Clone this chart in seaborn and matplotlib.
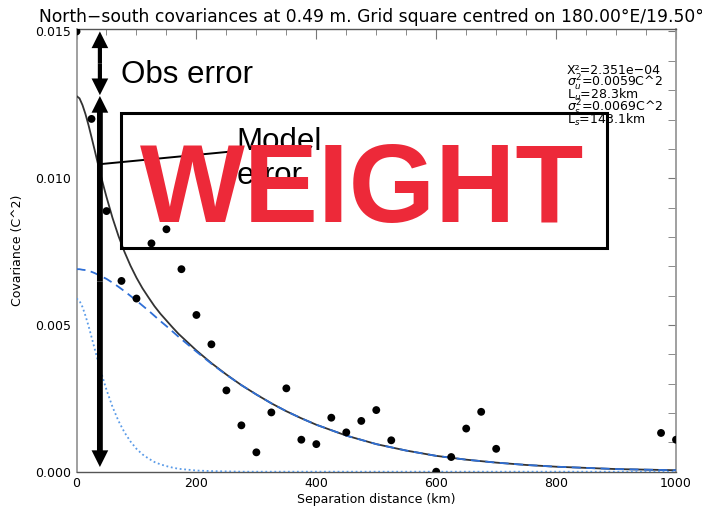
import matplotlib
matplotlib.use("Agg")
import matplotlib.pyplot as plt
import seaborn as sns
from matplotlib.patches import Rectangle
from matplotlib.ticker import MultipleLocator, FormatStrFormatter

# observed covariances (bin centres in km)
dist_obs = [0, 25, 50, 75, 100, 125, 150, 175, 200, 225, 250, 275, 300, 325,
            350, 375, 400, 425, 450, 475, 500, 525, 600, 625, 650, 675, 700,
            975, 1000]
cov_obs = [0.01500, 0.01202, 0.00888, 0.00650, 0.00590, 0.00778, 0.00826,
           0.00690, 0.00534, 0.00434, 0.00277, 0.00158, 0.00066, 0.00202,
           0.00284, 0.00109, 0.00094, 0.00184, 0.00134, 0.00173, 0.00210,
           0.00107, 0.00000, 0.00050, 0.00147, 0.00204, 0.00078, 0.00132,
           0.00109]

# fitted curves
dist_fit = [0, 5, 10, 15, 20, 25, 30, 35, 40, 45, 50, 60, 70, 80, 90, 100,
            110, 120, 130, 140, 150, 160, 170, 180, 190, 200, 225, 250, 275,
            300, 325, 350, 375, 400, 450, 500, 550, 600, 650, 700, 750, 800,
            850, 900, 950, 1000]
cov_total = [0.01280, 0.01272, 0.01249, 0.01218, 0.01181, 0.01140, 0.01098,
             0.01055, 0.01014, 0.00974, 0.00936, 0.00865, 0.00803, 0.00749,
             0.00702, 0.00661, 0.00625, 0.00594, 0.00564, 0.00538, 0.00515,
             0.00492, 0.00470, 0.00451, 0.00432, 0.00413, 0.00370, 0.00331,
             0.00295, 0.00263, 0.00233, 0.00206, 0.00182, 0.00160, 0.00123,
             0.00094, 0.00072, 0.00054, 0.00041, 0.00031, 0.00023, 0.00017,
             0.00013, 0.00009, 0.00007, 0.00005]
cov_synoptic = [0.00690, 0.00690, 0.00688, 0.00687, 0.00684, 0.00681, 0.00677,
                0.00672, 0.00668, 0.00662, 0.00657, 0.00644, 0.00630, 0.00615,
                0.00599, 0.00583, 0.00566, 0.00549, 0.00531, 0.00513, 0.00496,
                0.00478, 0.00460, 0.00443, 0.00426, 0.00409, 0.00368, 0.00330,
                0.00295, 0.00263, 0.00233, 0.00206, 0.00182, 0.00160, 0.00123,
                0.00094, 0.00072, 0.00054, 0.00041, 0.00031, 0.00023, 0.00017,
                0.00013, 0.00009, 0.00007, 0.00005]
cov_mesoscale = [0.00590, 0.00582, 0.00561, 0.00531, 0.00497, 0.00459, 0.00421,
                 0.00383, 0.00346, 0.00312, 0.00279, 0.00221, 0.00173, 0.00134,
                 0.00103, 0.00078, 0.00059, 0.00045, 0.00033, 0.00025, 0.00019,
                 0.00014, 0.00010, 0.00008, 0.00006, 0.00004, 0.00002, 0.00001,
                 0, 0, 0, 0, 0, 0, 0, 0, 0, 0, 0, 0, 0, 0, 0, 0, 0, 0]

stats_lines = [r"X²=2.351e−04",
               r"$\sigma^2_u$=0.0059C^2",
               r"L$_u$=28.3km",
               r"$\sigma^2_s$=0.0069C^2",
               r"L$_s$=143.1km"]

sns.set_style("white")
plt.rcParams["font.family"] = ["DejaVu Sans"]
plt.rcParams["text.color"] = "black"
plt.rcParams["axes.labelcolor"] = "black"
plt.rcParams["xtick.color"] = "black"
plt.rcParams["ytick.color"] = "black"

fig = plt.figure(figsize=(7.02, 5.12), dpi=100)
ax = fig.add_axes([0.109, 0.0787, 0.854, 0.8656])

sns.lineplot(x=dist_fit, y=cov_total, ax=ax, color="#333333", lw=1.3,
             estimator=None, sort=False, zorder=3)
sns.lineplot(x=dist_fit, y=cov_synoptic, ax=ax, color="#2f6fd6", lw=1.3,
             linestyle=(0, (5, 3)), estimator=None, sort=False, zorder=4)
sns.lineplot(x=dist_fit, y=cov_mesoscale, ax=ax, color="#5a9be8", lw=1.3,
             linestyle=(0, (1, 1.5)), estimator=None, sort=False, zorder=4)
sns.scatterplot(x=dist_obs, y=cov_obs, ax=ax, color="black", s=32,
                edgecolor="none", zorder=5)

ax.set_xlim(0, 1000)
ax.set_ylim(0, 0.0151)
ax.xaxis.set_major_locator(MultipleLocator(200))
ax.xaxis.set_minor_locator(MultipleLocator(50))
ax.yaxis.set_major_locator(MultipleLocator(0.005))
ax.yaxis.set_minor_locator(MultipleLocator(0.001))
ax.yaxis.set_major_formatter(FormatStrFormatter("%.3f"))
ax.tick_params(which="both", direction="in", top=True, right=True,
               color="#777777", labelcolor="black", labelsize=9, pad=4)
ax.tick_params(axis="x", which="major", length=7)
ax.tick_params(axis="x", which="minor", length=4)
ax.tick_params(axis="y", which="both", length=6)
for side in ["left", "right"]:
    ax.spines[side].set_color("#999999")
    ax.spines[side].set_linewidth(1.3)
for side in ["top", "bottom"]:
    ax.spines[side].set_color("#555555")
    ax.spines[side].set_linewidth(1.0)

ax.set_xlabel("Separation distance (km)", fontsize=9, labelpad=2)
ax.set_ylabel("Covariance (C^2)", fontsize=9, labelpad=8)
fig.text(0.056, 0.957,
         "North\u2212south covariances at 0.49 m. Grid square centred on 180.00°E/19.50°",
         fontsize=12.35, ha="left", va="baseline")

for i, line in enumerate(stats_lines):
    ax.text(818, 0.01355 - i * 0.000425, line, fontsize=9, ha="left",
            va="baseline", zorder=6)

# error arrows
arrow_x = 39
obs_mid = (0.0150 + 0.01283) / 2
for y_end in [0.0150, 0.01283]:
    ax.annotate("", xy=(arrow_x, y_end), xytext=(arrow_x, obs_mid),
                arrowprops=dict(arrowstyle="simple,head_length=12,head_width=12,tail_width=3",
                                mutation_scale=1, color="black", lw=0,
                                shrinkA=0, shrinkB=0), zorder=7)
mod_mid = (0.0128 + 0.00016) / 2
for y_end in [0.0128, 0.00016]:
    ax.annotate("", xy=(arrow_x, y_end), xytext=(arrow_x, mod_mid),
                arrowprops=dict(arrowstyle="simple,head_length=12,head_width=12,tail_width=4.2",
                                mutation_scale=1, color="black", lw=0,
                                shrinkA=0, shrinkB=0), zorder=7)

ax.text(74, 0.01326, "Obs error", fontsize=22.5, family="Liberation Sans",
        ha="left", va="baseline", zorder=7)
ax.plot([40, 269], [0.01048, 0.01093], color="black", lw=1.4, zorder=7,
        clip_on=False)
ax.text(267, 0.01096, "Model", fontsize=22.5, family="Liberation Sans",
        ha="left", va="baseline", zorder=7)
ax.text(267, 0.00981, "error", fontsize=22.5, family="Liberation Sans",
        ha="left", va="baseline", zorder=7)
ax.add_patch(Rectangle((75, 0.00761), 810, 0.00461, fill=False,
                       edgecolor="black", lw=2.2, zorder=8, clip_on=False))

ax.text(476, 0.00851, "WEIGHT", fontsize=80, fontweight="bold",
        family="Liberation Sans", color="#ed2939", ha="center",
        va="baseline", zorder=9)

fig.savefig("out.png", dpi=100)
